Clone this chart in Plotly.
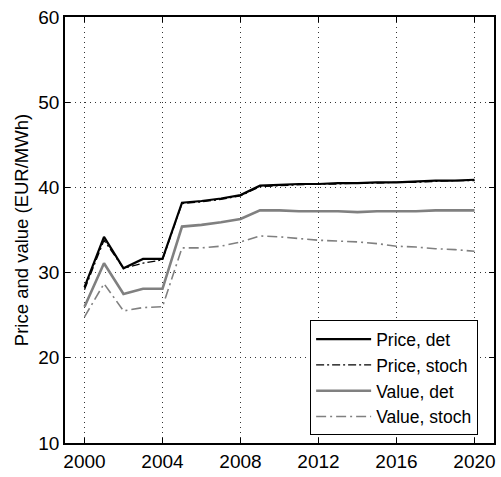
import plotly.graph_objects as go

years = list(range(2000, 2021))
price_det = [28.3, 34.2, 30.5, 31.6, 31.6, 38.2, 38.4, 38.7, 39.1, 40.2, 40.3, 40.4, 40.4, 40.5, 40.5, 40.6, 40.6, 40.7, 40.8, 40.8, 40.9]
price_stoch = [28.0, 33.8, 30.5, 31.1, 31.5, 38.1, 38.3, 38.6, 39.0, 40.1, 40.2, 40.3, 40.4, 40.4, 40.5, 40.5, 40.6, 40.6, 40.7, 40.8, 40.8]
value_det = [26.0, 31.1, 27.5, 28.1, 28.1, 35.4, 35.6, 35.9, 36.3, 37.3, 37.3, 37.2, 37.2, 37.2, 37.1, 37.2, 37.2, 37.2, 37.3, 37.3, 37.3]
value_stoch = [24.8, 28.7, 25.5, 25.9, 26.0, 32.9, 32.9, 33.1, 33.6, 34.3, 34.2, 34.0, 33.8, 33.7, 33.6, 33.4, 33.1, 33.0, 32.8, 32.7, 32.5]

x_ticks = [2000, 2004, 2008, 2012, 2016, 2020]
y_ticks = [10, 20, 30, 40, 50, 60]

FONT = "Liberation Sans, Arial, Helvetica, sans-serif"

fig = go.Figure()
fig.add_trace(go.Scatter(x=years, y=price_det, mode="lines", name="Price, det",
                         line=dict(color="black", width=2.2)))
fig.add_trace(go.Scatter(x=years, y=price_stoch, mode="lines", name="Price, stoch",
                         line=dict(color="black", width=1.3, dash="8px,3px,2px,3px")))
fig.add_trace(go.Scatter(x=years, y=value_det, mode="lines", name="Value, det",
                         line=dict(color="#808080", width=2.6)))
fig.add_trace(go.Scatter(x=years, y=value_stoch, mode="lines", name="Value, stoch",
                         line=dict(color="#808080", width=1.6, dash="10px,4px,2px,4px")))

axis_common = dict(
    showline=True, linecolor="black", linewidth=1.6, mirror="ticks",
    ticks="inside", ticklen=5, tickcolor="black", tickwidth=1,
    showgrid=True, gridcolor="#333333", griddash="1px,4px", gridwidth=1,
    zeroline=False,
    tickfont=dict(family=FONT, size=19, color="black"),
)

fig.update_xaxes(range=[1999, 2021], tickvals=x_ticks, **axis_common)
fig.update_yaxes(range=[10, 60], tickvals=y_ticks,
                 title=dict(text="Price and value (EUR/MWh)", standoff=5,
                            font=dict(family=FONT, size=18.5, color="black")),
                 **axis_common)

fig.update_layout(
    width=501, height=477,
    margin=dict(l=65, r=5, t=17, b=29),
    plot_bgcolor="white", paper_bgcolor="white",
    font=dict(family=FONT, size=19, color="black"),
    legend=dict(x=0.963, y=0.018, xanchor="right", yanchor="bottom",
                bgcolor="white", bordercolor="black", borderwidth=1,
                font=dict(family=FONT, size=17.5), tracegroupgap=0,
                itemwidth=55),
    showlegend=True,
)

fig.write_html("out.html")
